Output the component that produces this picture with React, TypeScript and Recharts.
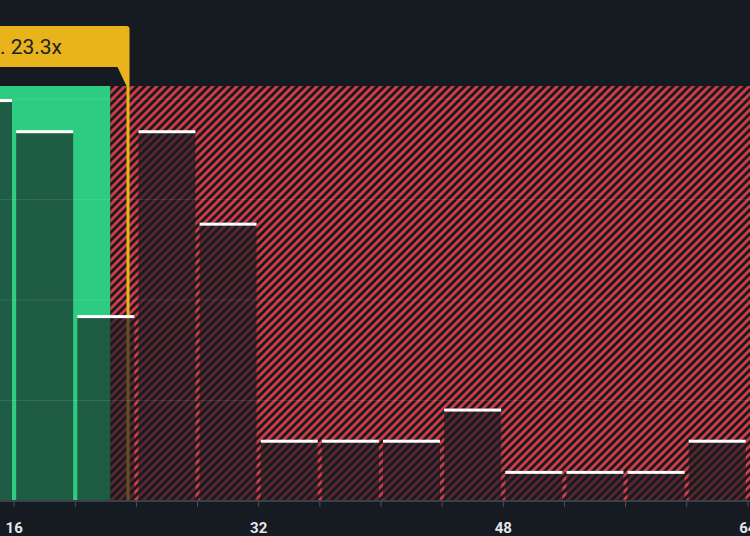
import React from "react";
import { Bar, ComposedChart, ReferenceArea, ReferenceLine, XAxis, YAxis } from "recharts";

// histogram bins (centre of each 4-wide bin) and share of companies per bin (%)
const BIN_MIDS = [14, 18, 22, 26, 30, 34, 38, 42, 46, 50, 54, 58, 62];
const SHARE = [3.99, 3.68, 1.84, 3.68, 2.76, 0.6, 0.6, 0.6, 0.91, 0.29, 0.29, 0.29, 0.6];
const AXIS_TICKS = [12, 16, 20, 24, 28, 32, 36, 40, 44, 48, 52, 56, 60, 64, 68];
const LABELED_TICKS = [16, 32, 48, 64];
const GRID_VALUES = [1, 2, 3, 4];
const X_DOMAIN: [number, number] = [12, 68];
const Y_DOMAIN: [number, number] = [0, 4.13];
const FAIR_LIMIT = 22.3;
const INDUSTRY_AVG = 23.3;
const AVG_LABEL = "Industry Avg. 23.3x";

const BG = "#161b22";
const GREEN = "#2ecc80";
const RED = "#d63a44";
const YELLOW = "#e9b31c";

const rows = BIN_MIDS.map((mid, i) => ({ mid, share: SHARE[i] }));

function BarShape(props: any) {
  const { x, y, width, height } = props;
  if (!height || height <= 0) return null;
  return (
    <g>
      <rect x={x} y={y} width={width} height={height} fill={BG} fillOpacity={0.63} />
      <rect x={x} y={y - 1} width={width} height={3} fill="#ffffff" />
    </g>
  );
}

function AxisTick(props: any) {
  const { x, y, payload } = props;
  if (!LABELED_TICKS.includes(payload.value)) return null;
  return (
    <text x={x} y={y} dy={24} textAnchor="middle" fill="#e4e6ea" fontSize={15} fontWeight={700} fontFamily="Roboto, sans-serif">
      {payload.value}
    </text>
  );
}

// callout box sitting on top of the average marker
function Callout(props: any) {
  const vb = props.viewBox || {};
  const lx = (vb.x ?? 0) + (vb.width ?? 0) / 2;
  const top = vb.y ?? 86;
  const r = lx + 1.5;
  const d = `M -40 26 H ${r - 3} Q ${r} 26 ${r} 29 V ${top} H ${lx - 1.5} L ${lx - 10.5} 67 H -40 Z`;
  return (
    <g>
      <path d={d} fill={YELLOW} />
      <text x={lx - 66} y={54} textAnchor="end" fill="#1d2029" fontSize={21} fontFamily="Roboto, sans-serif">
        {AVG_LABEL}
      </text>
    </g>
  );
}

export default function App() {
  return (
    <div style={{ position: "absolute", left: 0, top: 0, width: 750, height: 536, overflow: "hidden", background: BG }}>
      <div style={{ position: "absolute", left: -47.5, top: 0 }}>
        <ComposedChart width={856} height={536} data={rows} margin={{ top: 86, right: 0, bottom: 0, left: 0 }} barCategoryGap={2}>
          <defs>
            <pattern id="hatch" patternUnits="userSpaceOnUse" width={5.66} height={5.66} patternTransform="rotate(45)">
              <rect width={5.66} height={5.66} fill={BG} />
              <rect x={0} y={0} width={2.8} height={5.66} fill={RED} />
            </pattern>
          </defs>
          <XAxis
            dataKey="mid"
            type="number"
            domain={X_DOMAIN}
            ticks={AXIS_TICKS}
            allowDataOverflow
            height={35}
            axisLine={{ stroke: "#3a4049", strokeWidth: 2 }}
            tickLine={{ stroke: "#4b515a" }}
            tickSize={6}
            tick={<AxisTick />}
            interval={0}
          />
          <YAxis hide domain={Y_DOMAIN} allowDataOverflow />
          <ReferenceArea x1={X_DOMAIN[0]} x2={FAIR_LIMIT} fill={GREEN} fillOpacity={1} stroke="none" />
          <ReferenceArea x1={FAIR_LIMIT} x2={X_DOMAIN[1]} fill="url(#hatch)" fillOpacity={1} stroke="none" />
          <ReferenceArea
            x1={INDUSTRY_AVG + 0.05}
            x2={INDUSTRY_AVG + 0.25}
            fill={YELLOW}
            fillOpacity={1}
            stroke="none"
            label={(p: any) => <Callout {...p} />}
          />
          <Bar dataKey="share" shape={<BarShape />} isAnimationActive={false} />
          {GRID_VALUES.map((v) => (
            <ReferenceLine key={v} y={v} stroke="#ffffff" strokeOpacity={0.1} />
          ))}
        </ComposedChart>
      </div>
    </div>
  );
}
